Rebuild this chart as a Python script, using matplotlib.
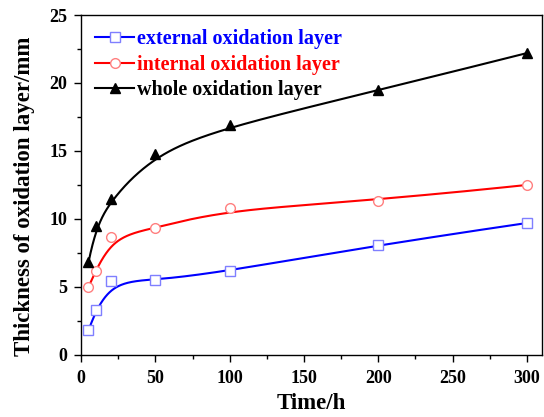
import numpy as np
import matplotlib
matplotlib.use("Agg")
from matplotlib import pyplot as plt
from matplotlib.lines import Line2D
from matplotlib.ticker import MultipleLocator

# data
time_h = [5, 10, 20, 50, 100, 200, 300]
external = [1.8, 3.3, 5.4, 5.5, 6.15, 8.1, 9.7]
internal = [5.0, 6.2, 8.7, 9.3, 10.8, 11.35, 12.5]
whole = [6.8, 9.5, 11.45, 14.8, 16.9, 19.45, 22.2]
labels = ["external oxidation layer", "internal oxidation layer", "whole oxidation layer"]


def bspline(xs, ys, n=400):
    # clamped uniform cubic B-spline with the data points as control points
    P = np.column_stack([xs, ys]).astype(float)
    k = 3
    m = len(P)
    inner = np.linspace(0, 1, m - k + 1)
    knots = np.concatenate([[0] * k, inner, [1] * k])
    t = np.linspace(0, 1, n)
    t[-1] = 1 - 1e-12
    # Cox-de Boor
    N = np.zeros((n, len(knots) - 1))
    for i in range(len(knots) - 1):
        N[:, i] = (t >= knots[i]) & (t < knots[i + 1])
    for d in range(1, k + 1):
        Nn = np.zeros((n, len(knots) - 1 - d))
        for i in range(len(knots) - 1 - d):
            a = knots[i + d] - knots[i]
            b = knots[i + d + 1] - knots[i + 1]
            left = (t - knots[i]) / a * N[:, i] if a > 0 else 0
            right = (knots[i + d + 1] - t) / b * N[:, i + 1] if b > 0 else 0
            Nn[:, i] = left + right
        N = Nn
    C = N @ P
    return C[:, 0], C[:, 1]


plt.rcParams['font.family'] = ['Liberation Serif', 'DejaVu Serif']
plt.rcParams['font.weight'] = 'bold'

fig = plt.figure(figsize=(5.44, 4.17), dpi=100)
ax = fig.add_axes([0.149, 0.149, 0.847, 0.815])

series = [
    (external, 'blue', 's', 'white', '#7f7fff', 6.5),
    (internal, 'red', 'o', 'white', '#ff7f7f', 7),
    (whole, 'black', '^', 'black', 'black', 7.5),
]
handles = []
for ys, col, mk, fc, ec, ms in series:
    cx, cy = bspline(time_h, ys)
    ax.plot(cx, cy, color=col, lw=1.5, zorder=2)
    ax.plot(time_h, ys, ls='none', marker=mk, markersize=ms, markerfacecolor=fc,
            markeredgecolor=ec, markeredgewidth=1.0, zorder=3)
    handles.append(Line2D([], [], color=col, lw=1.5, marker=mk, markersize=ms,
                          markerfacecolor=fc, markeredgecolor=ec))

ax.set_xlim(0, 310)
ax.set_ylim(0, 25)
ax.xaxis.set_major_locator(MultipleLocator(50))
ax.xaxis.set_minor_locator(MultipleLocator(25))
ax.yaxis.set_major_locator(MultipleLocator(5))
ax.yaxis.set_minor_locator(MultipleLocator(2.5))
ax.tick_params(which='both', direction='out', width=1.0, labelsize=13)
ax.tick_params(which='major', length=5)
ax.tick_params(which='minor', length=3)
ax.tick_params(axis='x', which='major', pad=6)
ax.tick_params(axis='y', which='major', pad=5)
for s in ax.spines.values():
    s.set_linewidth(1.0)
for lab in ax.get_xticklabels() + ax.get_yticklabels():
    lab.set_fontweight('bold')

ax.set_xlabel('Time/h', fontsize=16.5, fontweight='bold', labelpad=4)
ax.set_ylabel('Thickness of oxidation layer/mm', fontsize=16.5, fontweight='bold')
ax.yaxis.set_label_coords(-0.1, 0.468)

leg = ax.legend(handles, labels, loc='upper left', frameon=False,
                handlelength=1.95, handletextpad=0.15, labelspacing=0.28,
                borderaxespad=0.3, prop={'weight': 'bold', 'size': 14.5})
for txt, s in zip(leg.get_texts(), series):
    txt.set_color(s[1])

fig.savefig('out.png', dpi=100)
